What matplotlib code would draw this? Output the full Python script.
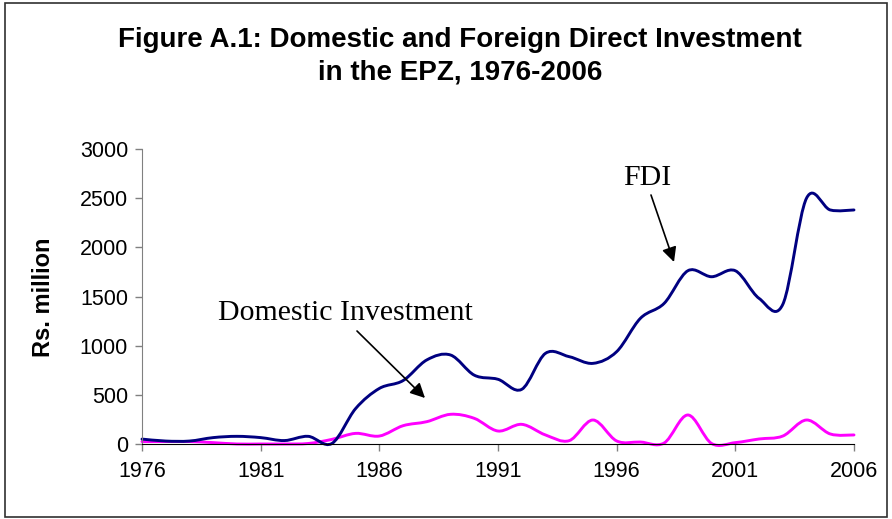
import matplotlib
matplotlib.use("Agg")
import matplotlib.pyplot as plt
from matplotlib.path import Path
from matplotlib.patches import PathPatch, Rectangle
import numpy as np

years = list(range(1976, 2007))
fdi = [50, 30, 30, 65, 78, 65, 35, 78, 5, 360, 565, 645, 855, 905, 700, 658,
       556, 922, 888, 820, 939, 1278, 1430, 1762, 1701, 1762, 1481, 1420, 2500, 2380, 2380]
domestic = [24, 25, 25, 14, 0, 0, 0, 5, 47, 108, 81, 186, 227, 302, 261, 132,
            200, 92, 34, 244, 31, 20, 10, 295, 5, 14, 51, 81, 244, 102, 92]
xticks = [1976, 1981, 1986, 1991, 1996, 2001, 2006]
yticks = [0, 500, 1000, 1500, 2000, 2500, 3000]

W, H = 892, 519
fig = plt.figure(figsize=(W / 100, H / 100), dpi=100)
fig.patch.set_facecolor("white")

ax = fig.add_axes([142 / W, 1 - 444 / H, (854 - 142) / W, (444 - 149) / H])


def smooth_path(x, y):
    x = np.asarray(x, float)
    y = np.asarray(y, float)
    n = len(x)
    verts = [(x[0], y[0])]
    codes = [Path.MOVETO]
    for i in range(n - 1):
        xm, ym = (x[i - 1], y[i - 1]) if i > 0 else (x[i], y[i])
        xp2, yp2 = (x[i + 2], y[i + 2]) if i + 2 < n else (x[i + 1], y[i + 1])
        c1 = (x[i] + (x[i + 1] - xm) / 6, y[i] + (y[i + 1] - ym) / 6)
        c2 = (x[i + 1] - (xp2 - x[i]) / 6, y[i + 1] - (yp2 - y[i]) / 6)
        verts += [c1, c2, (x[i + 1], y[i + 1])]
        codes += [Path.CURVE4] * 3
    return Path(verts, codes)


for series, col in [(domestic, "#FF00FF"), (fdi, "#000080")]:
    ax.add_patch(PathPatch(smooth_path(years, series), facecolor="none",
                           edgecolor=col, lw=2.1, capstyle="round", joinstyle="round",
                           clip_on=False))

ax.set_xlim(1976, 2006)
ax.set_ylim(0, 3000)
ax.set_xticks(xticks)
ax.set_xticklabels([str(t) for t in xticks])
ax.set_yticks(yticks)
ax.set_yticklabels([str(t) for t in yticks])

for s in ["top", "right"]:
    ax.spines[s].set_visible(False)
ax.spines["left"].set_color("#808080")
ax.spines["bottom"].set_color("black")
ax.tick_params(axis="y", direction="out", length=5, color="#808080", width=1,
               labelsize=15.5, pad=5)
ax.tick_params(axis="x", direction="out", length=5, color="#808080", width=1,
               labelsize=15.5, pad=7)
for lab in ax.get_xticklabels() + ax.get_yticklabels():
    lab.set_fontfamily("Liberation Sans")

fig.text(44 / W, 1 - 297 / H, "Rs. million", rotation=90, ha="center", va="center",
         fontfamily="Liberation Sans", fontweight="bold", fontsize=17)

fig.text(460 / W, 1 - 40 / H, "Figure A.1: Domestic and Foreign Direct Investment",
         ha="center", va="center", fontfamily="Liberation Sans", fontweight="bold", fontsize=20)
fig.text(460 / W, 1 - 73 / H, "in the EPZ, 1976-2006",
         ha="center", va="center", fontfamily="Liberation Sans", fontweight="bold", fontsize=20)

def px2data(px, py):
    inv = ax.transData.inverted()
    return inv.transform((px, H - py))

ax.annotate("", xy=px2data(425, 398), xytext=px2data(357, 331),
            arrowprops=dict(arrowstyle="-|>", color="black", lw=1.2, mutation_scale=22,
                            shrinkA=0, shrinkB=0))
ax.annotate("", xy=px2data(674, 262), xytext=px2data(651, 195),
            arrowprops=dict(arrowstyle="-|>", color="black", lw=1.2, mutation_scale=22,
                            shrinkA=0, shrinkB=0))
fig.text(218 / W, 1 - 313 / H, "Domestic Investment", ha="left", va="center",
         fontfamily="Liberation Serif", fontsize=21.5)
fig.text(647 / W, 1 - 178 / H, "FDI", ha="center", va="center",
         fontfamily="Liberation Serif", fontsize=21.5)

fig.patches.append(Rectangle((5 / W, 1 - 517 / H), (887 - 5) / W, (517 - 3) / H,
                             transform=fig.transFigure, fill=False, edgecolor="#303030", lw=1.2))

fig.savefig("out.png", dpi=100, facecolor="white")
